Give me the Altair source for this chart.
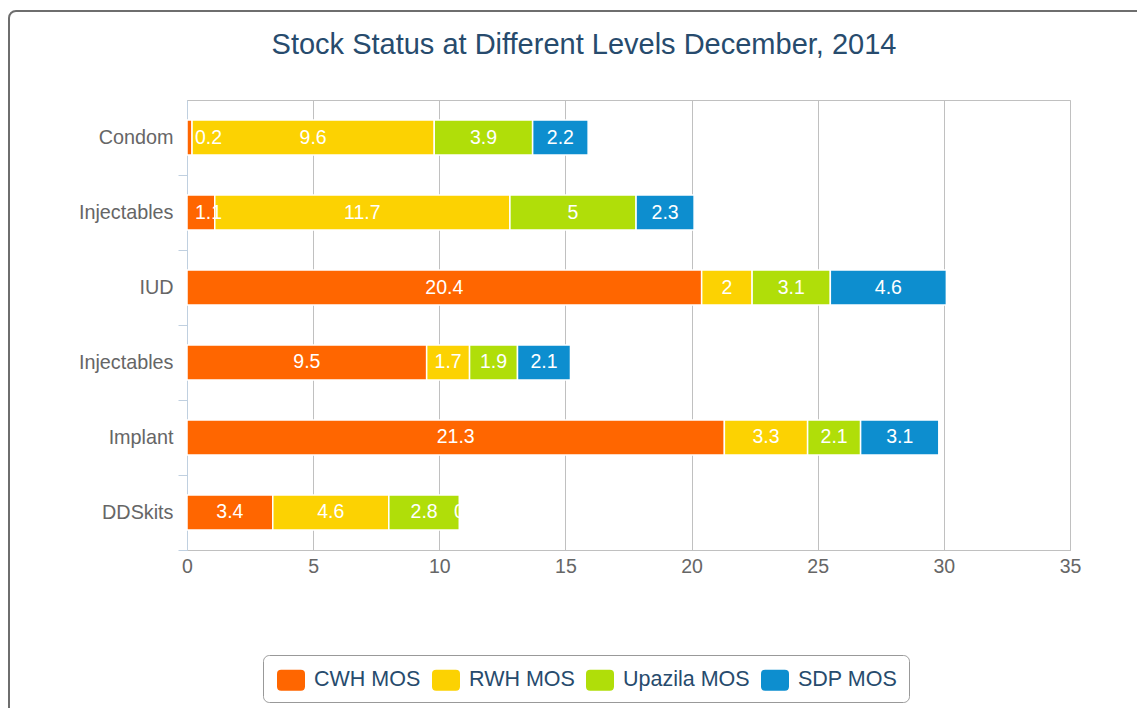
import json
import altair as alt
import pandas as pd

title_text = "Stock Status at Different Levels December, 2014"
categories = ["Condom", "Injectables", "IUD", "Injectables", "Implant", "DDSkits"]
series = ["CWH MOS", "RWH MOS", "Upazila MOS", "SDP MOS"]
colors = ["#FF6600", "#FCD202", "#B0DE09", "#0D8ECF"]
cwh = [0.2, 1.1, 20.4, 9.5, 21.3, 3.4]
rwh = [9.6, 11.7, 2, 1.7, 3.3, 4.6]
upazila = [3.9, 5, 3.1, 1.9, 2.1, 2.8]
sdp = [2.2, 2.3, 4.6, 2.1, 3.1, 0]
x_ticks = [0, 5, 10, 15, 20, 25, 30, 35]

FONT = "Liberation Sans"

rows = []
for si, (name, vals) in enumerate(zip(series, [cwh, rwh, upazila, sdp])):
    for ci, v in enumerate(vals):
        rows.append({"row": ci, "series": name, "order": si, "value": v})
df = pd.DataFrame(rows)

label_expr = json.dumps(categories).replace('"', "'") + "[datum.value]"

x_enc = alt.X(
    "x0:Q",
    scale=alt.Scale(domain=[0, 35], nice=False, zero=True),
    axis=alt.Axis(values=x_ticks, grid=True, gridColor="#C0C0C0", gridWidth=1,
                  ticks=False, domain=True, domainColor="#C0C0C0",
                  labelFontSize=19.5, labelColor="#666666", labelFont=FONT,
                  labelPadding=7, labelFlush=False, format="d", title=None),
)
y_enc = alt.Y(
    "row:O",
    scale=alt.Scale(paddingInner=0.533, paddingOuter=0.2667),
    axis=alt.Axis(labelExpr=label_expr, tickOffset=37.5, labelOffset=-37.5,
                  tickSize=9, tickColor="#C0D0E0", domainColor="#C0D0E0",
                  grid=False, labelFontSize=19.8, labelColor="#666666",
                  labelFont=FONT, labelPadding=5, title=None),
)

rounded = ("M-0.7,-0.75H0.7Q1,-0.75 1,-0.45V0.45Q1,0.75 0.7,0.75H-0.7"
           "Q-1,0.75 -1,0.45V-0.45Q-1,-0.75 -0.7,-0.75Z")

base = alt.Chart(df).transform_stack(
    stack="value", groupby=["row"], sort=[alt.SortField("order")], as_=["x0", "x1"]
).transform_calculate(mid="(datum.x0 + datum.x1) / 2")

bars = base.mark_bar(stroke="white", strokeWidth=1.5).encode(
    x=x_enc,
    x2="x1:Q",
    y=y_enc,
    color=alt.Color(
        "series:N",
        scale=alt.Scale(domain=series, range=colors),
        legend=alt.Legend(
            title=None, orient="none", legendX=76, legendY=555,
            direction="horizontal", columns=4, symbolType=rounded,
            symbolSize=784, symbolStrokeWidth=0, symbolOpacity=1,
            symbolOffset=3,
            labelFontSize=21.5, labelColor="#274B6D", labelFont=FONT,
            labelOffset=9, columnPadding=8, padding=11,
            strokeColor="#999999", cornerRadius=6, fillColor="white",
        ),
    ),
)

labels_mid = base.transform_filter("datum.value >= 1.5 || datum.value == 0").mark_text(
    color="white", fontSize=19.5, font=FONT, align="center", baseline="middle"
).encode(
    x=alt.X("mid:Q"), y=alt.Y("row:O"), text=alt.Text("value:Q", format="~g")
)

labels_small = base.transform_filter("datum.value > 0 && datum.value < 1.5").mark_text(
    color="white", fontSize=19.5, font=FONT, align="left", baseline="middle", dx=8
).encode(
    x=alt.X("x0:Q"), y=alt.Y("row:O"), text=alt.Text("value:Q", format="~g")
)

border = alt.Chart(pd.DataFrame({"a": [0]})).mark_rect(
    fillOpacity=0, stroke="#6E6E6E", strokeWidth=2, cornerRadius=7
).encode(
    x=alt.value(-178), x2=alt.value(1000), y=alt.value(-89), y2=alt.value(700)
)

title = alt.Chart(pd.DataFrame({"t": [title_text]})).mark_text(
    fontSize=29, font=FONT, color="#274B6D", align="center", baseline="alphabetic"
).encode(x=alt.value(397), y=alt.value(-46), text="t:N")

chart = alt.layer(border, bars, labels_mid, labels_small, title).properties(
    width=883, height=450,
    autosize=alt.AutoSizeParams(type="none"),
    padding={"left": 179, "top": 92, "right": 67, "bottom": 158},
).configure_view(stroke="#C0C0C0", strokeWidth=1)

chart.save("out.html", embed_options={"renderer": "svg", "actions": False})
